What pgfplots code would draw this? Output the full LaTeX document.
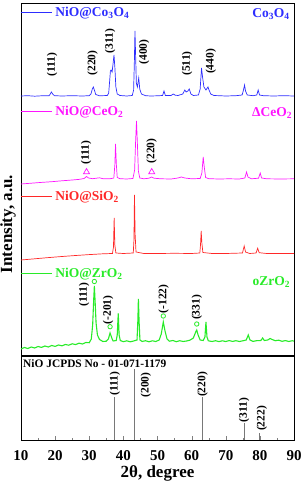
\documentclass[border=0pt]{standalone}
\usepackage{fontspec}
\setmainfont{Liberation Serif}
\usepackage{pgfplots}
\pgfplotsset{compat=1.18}
\definecolor{cblue}{RGB}{45,45,255}
\definecolor{cmag}{RGB}{255,20,255}
\definecolor{cred}{RGB}{255,40,40}
\definecolor{cgreen}{RGB}{40,235,40}
\definecolor{cgray}{RGB}{120,120,120}
\newcommand{\lblfont}{\bfseries\fontsize{11.5}{12}\selectfont}
\newcommand{\legfont}{\bfseries\fontsize{13.5}{14}\selectfont}
\begin{document}
\begin{tikzpicture}[font=\bfseries]
\begin{axis}[at={(0,0)}, anchor=south west, scale only axis, width=273pt, height=352pt,
  xmin=10, xmax=90, ymin=0, ymax=352, xtick=\empty, ytick=\empty,
  axis line style={line width=0.8pt}, clip=false]
% Co3O4
\addplot[cblue, line width=0.7pt] coordinates {
(10,259)(12,259.3)(14,258.8)(16,259.2)(18.2,259.2)(18.6,261)(18.9,263)(19.3,261)(19.8,259.3)
(22,259)(25,259.3)(28,259)(30,259.3)(30.5,261)(30.9,266)(31.2,268)(31.5,265)(31.9,260.5)
(33,259.2)(35.3,259.5)(35.7,262)(36.0,275)(36.2,284)(36.4,285)(36.7,283)(37.0,292)(37.25,300)
(37.5,288)(37.8,268)(38.2,261)(39,259.5)(41,259)(42.6,259.5)(43.0,265)(43.2,290)(43.4,324)
(43.6,298)(43.8,272)(44.1,268)(44.5,277)(44.8,266)(45.3,261)(46.5,259.3)(48,259)(50,259.2)
(51.5,259.5)(51.9,264)(52.3,259.5)(54,259.5)(54.6,261)(55.2,259.8)(56,259.5)(57.4,261)
(58.0,265)(58.4,263)(58.9,264)(59.3,266)(59.8,261)(60.5,259.5)(62.0,260)(62.5,266)(62.9,287)
(63.2,278)(63.6,268)(64.2,265)(64.8,268)(65.1,265)(65.6,261)(66.5,259.5)(68,259.3)(70,259)
(73,259.3)(74.8,260)(75.2,265)(75.5,270)(75.8,264)(76.3,260)(78,259.3)(79.1,260)(79.5,265)
(79.9,260)(81,259.3)(84,259)(87,259.3)(90,259)};
% CeO2
\addplot[cmag, line width=0.7pt] coordinates {
(10,171)(13,171.8)(16,172.6)(19,173.3)(22,174.2)(25,175.0)(27,175.6)(28.5,176.5)(29.2,178.5)
(29.8,177)(31,176.3)(33,177.2)(34,176.3)(36,176.2)(37.2,177)(37.5,190)(37.7,211)(37.95,190)
(38.2,177.5)(39,176.3)(41,176)(42.8,176.5)(43.3,185)(43.6,215)(43.85,234)(44.1,212)(44.4,184)
(44.8,177)(46,176.2)(47.5,176.8)(48.3,178)(49,176.8)(51,176.2)(54,176)(56,177)(57,178)(58,177)
(60,176.2)(62.5,176.5)(63.0,182)(63.4,198)(63.7,188)(64.1,177.5)(65,176.3)(68,176)(71,176.2)
(74,176)(75.6,177)(76.1,183)(76.5,178)(77.5,176.2)(79.6,176.8)(80.1,182)(80.5,177)(82,176.2)
(86,176)(90,176.2)};
% SiO2
\addplot[cred, line width=0.7pt] coordinates {
(10,95)(14,96.2)(18,97.4)(22,98.5)(26,99.5)(30,100.4)(34,101.2)(36.8,101.5)(37.1,108)(37.3,137)
(37.5,110)(37.8,102)(40,101.5)(42.9,102)(43.1,115)(43.25,160)(43.45,120)(43.7,103)(46,101.5)
(50,101.5)(55,101.7)(60,101.5)(62.4,102)(62.6,110)(62.8,124)(63.0,112)(63.3,102.5)(66,101.5)
(70,101.5)(74.9,102)(75.4,109)(75.8,103)(77,101.5)(78.9,102)(79.35,106.7)(79.8,102.3)(82,101.5)
(86,101.5)(90,101.5)};
% ZrO2
\addplot[cgreen, line width=1.1pt] coordinates {
(10,6)(11,7.5)(12,6.5)(13,8)(14,7)(15,8.5)(16,7.6)(17,9)(18,8)(19,9.5)(20,8.6)(21,10)(22,9.2)
(23,10.5)(24,9.8)(25,11.2)(26,10.4)(27,11.8)(28,11)(29,12.5)(30,12.3)(30.6,16)(31.0,30)(31.3,55)
(31.5,69)(31.7,55)(32.0,32)(32.4,20)(33,15.5)(34,13.5)(35,13.8)(35.6,16)(36.1,22)(36.6,17)(37,14)
(37.9,14.5)(38.2,20)(38.5,41.7)(38.75,20)(39.1,14.5)(40,13.3)(41,14.2)(42,13.2)(43,14)(44.0,15)
(44.25,35)(44.4,56)(44.6,34)(44.85,15)(45.5,13.5)(46.5,14.3)(47.5,13.2)(48.5,14.2)(49.5,13.5)
(50.5,15)(51.1,21)(51.7,33)(52.2,24)(52.8,16)(53.5,13.8)(54.5,14.5)(55.5,13.3)(56.5,14.3)
(57.5,13.5)(58.5,14)(59.5,14.8)(60.5,17)(61.2,23)(61.5,25)(61.9,20)(62.5,15)(63.4,14.5)(63.9,18)
(64.2,33)(64.5,18)(64.9,14.2)(66,13.5)(67,14.3)(68,13.4)(69,14.2)(70,13.5)(71,14.4)(72,13.6)
(73,14.3)(74,13.5)(75,14.2)(76.0,15)(76.6,20)(77.1,15)(78,13.6)(79,14.3)(80.3,14.5)(80.8,17)
(81.3,14.5)(82.3,15)(83.0,16.5)(83.6,15.5)(84.5,14.3)(85.5,14.8)(86.5,13.7)(87.5,14.4)(88.5,13.5)
(89.5,14.3)(90,13.8)};
% markers
\addplot[only marks, mark=triangle, mark size=3.5pt, cmag, mark options={line width=0.7pt}] coordinates {(29.2,183)(48.3,183)};
\addplot[only marks, mark=o, mark size=2.2pt, cgreen, mark options={line width=0.8pt}] coordinates {(31.5,73.5)(36.1,28.3)(51.7,39)(61.5,31)};
% legend lines
\addplot[cblue, line width=0.4pt] coordinates {(10,342.5)(19.1,342.5)};
\addplot[cmag, line width=0.4pt] coordinates {(10,244)(19.1,244)};
\addplot[cred, line width=0.4pt] coordinates {(10,159)(19.1,159)};
\addplot[cgreen, line width=0.4pt] coordinates {(10,82)(19.1,82)};
% legend texts
\node[anchor=west, text=cblue, font=\legfont, inner sep=0pt] at (axis cs:20,342) {NiO@Co\textsubscript{3}O\textsubscript{4}};
\node[anchor=west, text=cmag, font=\legfont, inner sep=0pt] at (axis cs:20,243) {NiO@CeO\textsubscript{2}};
\node[anchor=west, text=cred, font=\legfont, inner sep=0pt] at (axis cs:20,158) {NiO@SiO\textsubscript{2}};
\node[anchor=west, text=cgreen, font=\legfont, inner sep=0pt] at (axis cs:20,81) {NiO@ZrO\textsubscript{2}};
\node[anchor=east, text=cblue, font=\legfont, inner sep=0pt] at (axis cs:88.8,341) {Co\textsubscript{3}O\textsubscript{4}};
\node[anchor=east, text=cmag, font=\legfont, inner sep=0pt] at (axis cs:89.5,242) {ΔCeO\textsubscript{2}};
\node[anchor=east, text=cgreen, font=\legfont, inner sep=0pt] at (axis cs:88.9,73) {oZrO\textsubscript{2}};
% hkl labels
\node[rotate=90, font=\lblfont] at (axis cs:19.1,290.5) {(111)};
\node[rotate=90, font=\lblfont] at (axis cs:31.0,292) {(220)};
\node[rotate=90, font=\lblfont] at (axis cs:36.1,314) {(311)};
\node[rotate=90, font=\lblfont] at (axis cs:46.1,303) {(400)};
\node[rotate=90, font=\lblfont] at (axis cs:58.7,291.5) {(511)};
\node[rotate=90, font=\lblfont] at (axis cs:65.6,293.5) {(440)};
\node[rotate=90, font=\lblfont] at (axis cs:29.1,202.5) {(111)};
\node[rotate=90, font=\lblfont] at (axis cs:48.3,204) {(220)};
\node[rotate=90, font=\lblfont] at (axis cs:28.5,60.3) {(111)};
\node[rotate=90, font=\lblfont] at (axis cs:35.5,45) {(-201)};
\node[rotate=90, font=\lblfont] at (axis cs:51.8,56) {(-122)};
\node[rotate=90, font=\lblfont] at (axis cs:61.5,47.5) {(331)};
\end{axis}
\begin{axis}[at={(0,-1pt)}, anchor=north west, scale only axis, width=273pt, height=84pt,
  xmin=10, xmax=90, ymin=0, ymax=84, xtick={10,20,...,90}, minor x tick num=1,
  xtick pos=left, ytick=\empty, tick align=inside, major tick length=4pt, minor tick length=2.5pt,
  axis line style={line width=0.8pt},
  ticklabel style={font=\bfseries\fontsize{15}{15}\selectfont},
  xticklabel style={yshift=-7pt},
  /pgf/number format/assume math mode=true,
  xlabel={2θ, degree}, xlabel style={font=\bfseries\fontsize{17}{17}\selectfont,
    at={(axis description cs:0.5,0)}, anchor=center, yshift=-33pt},
  clip=false]
\addplot[ycomb, cgray, line width=0.8pt, mark=none] coordinates {(37.3,43.3)(43.3,70.7)(63.2,42.7)(75.4,16.7)(79.9,7.3)};
\node[anchor=west, font=\bfseries\fontsize{11.4}{12}\selectfont, inner sep=0pt] at (axis cs:10.6,76) {NiO JCPDS No - 01-071-1179};
\node[rotate=90, font=\lblfont] at (axis cs:37.5,56.5) {(111)};
\node[rotate=90, font=\lblfont] at (axis cs:46.6,55) {(200)};
\node[rotate=90, font=\lblfont] at (axis cs:63.2,55.5) {(220)};
\node[rotate=90, font=\lblfont] at (axis cs:75.4,30) {(311)};
\node[rotate=90, font=\lblfont] at (axis cs:80.6,21.5) {(222)};
\end{axis}
\node[rotate=90, font=\bfseries\fontsize{17}{17}\selectfont] at (-13pt,131pt) {Intensity, a.u.};
\pgfresetboundingbox
\path (-21pt,-129pt) rectangle (282pt,355pt);
\end{tikzpicture}
\end{document}
